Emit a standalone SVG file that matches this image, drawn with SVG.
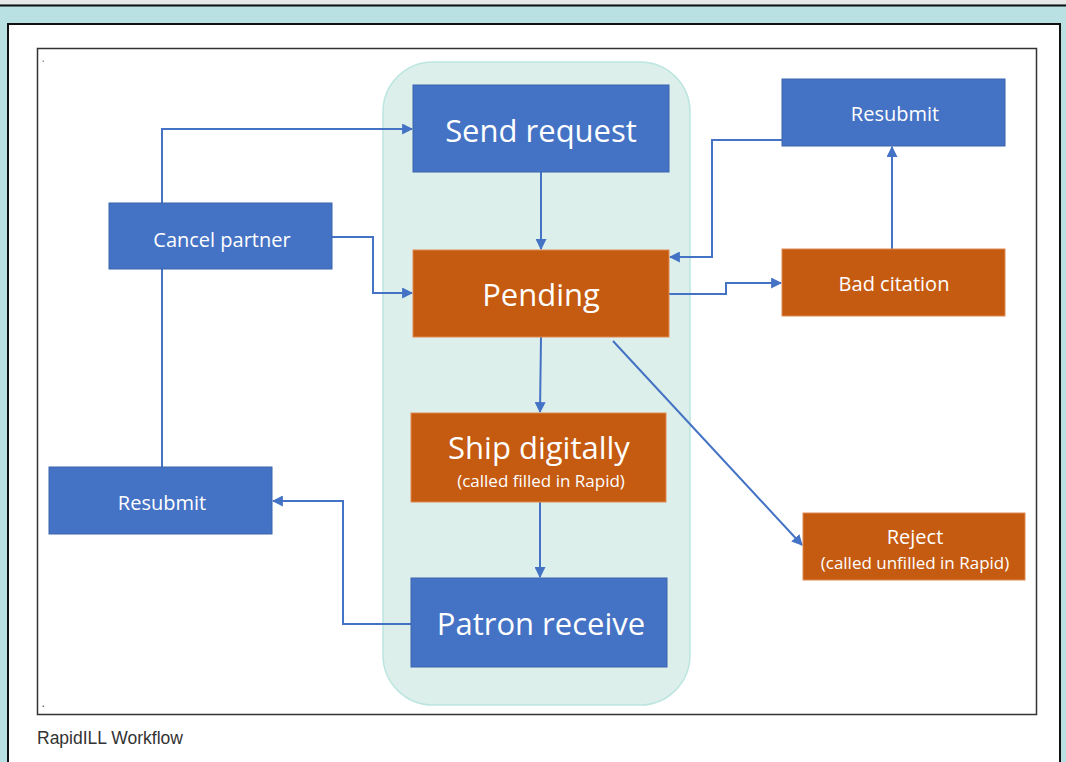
<svg xmlns="http://www.w3.org/2000/svg" width="1066" height="762" viewBox="0 0 1066 762">
<style>
.blue{fill:#4472c4;stroke:#3a64ad;stroke-width:1}
.orange{fill:#c55a11;stroke:#e08a50;stroke-width:1}
.t{font-family:"Open Sans","Noto Sans",sans-serif;fill:#ffffff;text-anchor:middle}
.big{font-size:31px}
.mid{font-size:20px}
.small{font-size:17px}
.c{fill:none;stroke:#4472c4;stroke-width:2}
</style>
<defs>
<marker id="ah" viewBox="0 0 10 10" refX="9" refY="5" markerWidth="5.5" markerHeight="5.5" orient="auto" markerUnits="strokeWidth">
<path d="M0,0 L10,5 L0,10 z" fill="#4472c4"/>
</marker>
</defs>
<rect x="0" y="0" width="1066" height="762" fill="#b9e1e3"/>
<rect x="0" y="0" width="1066" height="4" fill="#e8e8e8"/>
<line x1="0" y1="5.5" x2="1066" y2="5.5" stroke="#111" stroke-width="2"/>
<rect x="8" y="24" width="1052" height="745" fill="#ffffff" stroke="#111" stroke-width="2"/>
<rect x="37.5" y="48.5" width="999" height="666" fill="#ffffff" stroke="#333" stroke-width="1.5"/>
<rect x="42.5" y="60.5" width="1.5" height="1.5" fill="#999"/>
<rect x="42.5" y="705.5" width="1.5" height="1.5" fill="#777"/>
<text x="37" y="744" font-family="Liberation Sans,Arial,sans-serif" font-size="17.5" fill="#333">RapidILL Workflow</text>
<rect x="383" y="62" width="307" height="643" rx="50" ry="50" fill="#dcefeb" stroke="#bde5df" stroke-width="1.5"/>
<g id="connectors">
<line class="c" x1="541" y1="172" x2="541" y2="249" marker-end="url(#ah)"/>
<line class="c" x1="541" y1="337" x2="540" y2="412" marker-end="url(#ah)"/>
<line class="c" x1="540" y1="502" x2="540" y2="577" marker-end="url(#ah)"/>
<polyline class="c" points="162,203 162,129 412,129" marker-end="url(#ah)"/>
<polyline class="c" points="332,237 373,237 373,293 412,293" marker-end="url(#ah)"/>
<line class="c" x1="162" y1="269" x2="162" y2="467"/>
<polyline class="c" points="411,624 343,624 343,501 273,501" marker-end="url(#ah)"/>
<polyline class="c" points="669,294 726,294 726,283 781,283" marker-end="url(#ah)"/>
<line class="c" x1="892" y1="249" x2="892" y2="147" marker-end="url(#ah)"/>
<polyline class="c" points="782,140 712,140 712,257 670,257" marker-end="url(#ah)"/>
<line class="c" x1="613" y1="341" x2="802" y2="545" marker-end="url(#ah)"/>
</g>
<g id="send-request">
<rect class="blue" x="413" y="85" width="256" height="87"/>
<text class="t big" x="541" y="142">Send request</text>
</g>
<g id="pending">
<rect class="orange" x="413" y="250" width="256" height="87"/>
<text class="t big" x="541" y="306">Pending</text>
</g>
<g id="ship-digitally">
<rect class="orange" x="411" y="413" width="255" height="89"/>
<text class="t big" x="539" y="459">Ship digitally</text>
<text class="t small" x="541" y="487">(called filled in Rapid)</text>
</g>
<g id="patron-receive">
<rect class="blue" x="411" y="578" width="256" height="89"/>
<text class="t big" x="541" y="635">Patron receive</text>
</g>
<g id="cancel-partner">
<rect class="blue" x="109" y="203" width="223" height="66"/>
<text class="t mid" x="222" y="247">Cancel partner</text>
</g>
<g id="resubmit-left">
<rect class="blue" x="49" y="467" width="223" height="67"/>
<text class="t mid" x="162" y="510">Resubmit</text>
</g>
<g id="resubmit-right">
<rect class="blue" x="782" y="79" width="223" height="67"/>
<text class="t mid" x="895" y="121">Resubmit</text>
</g>
<g id="bad-citation">
<rect class="orange" x="782" y="249" width="223" height="67"/>
<text class="t mid" x="894" y="291">Bad citation</text>
</g>
<g id="reject">
<rect class="orange" x="803" y="513" width="222" height="67"/>
<text class="t mid" x="915" y="544">Reject</text>
<text class="t small" x="915" y="569">(called unfilled in Rapid)</text>
</g>
</svg>
